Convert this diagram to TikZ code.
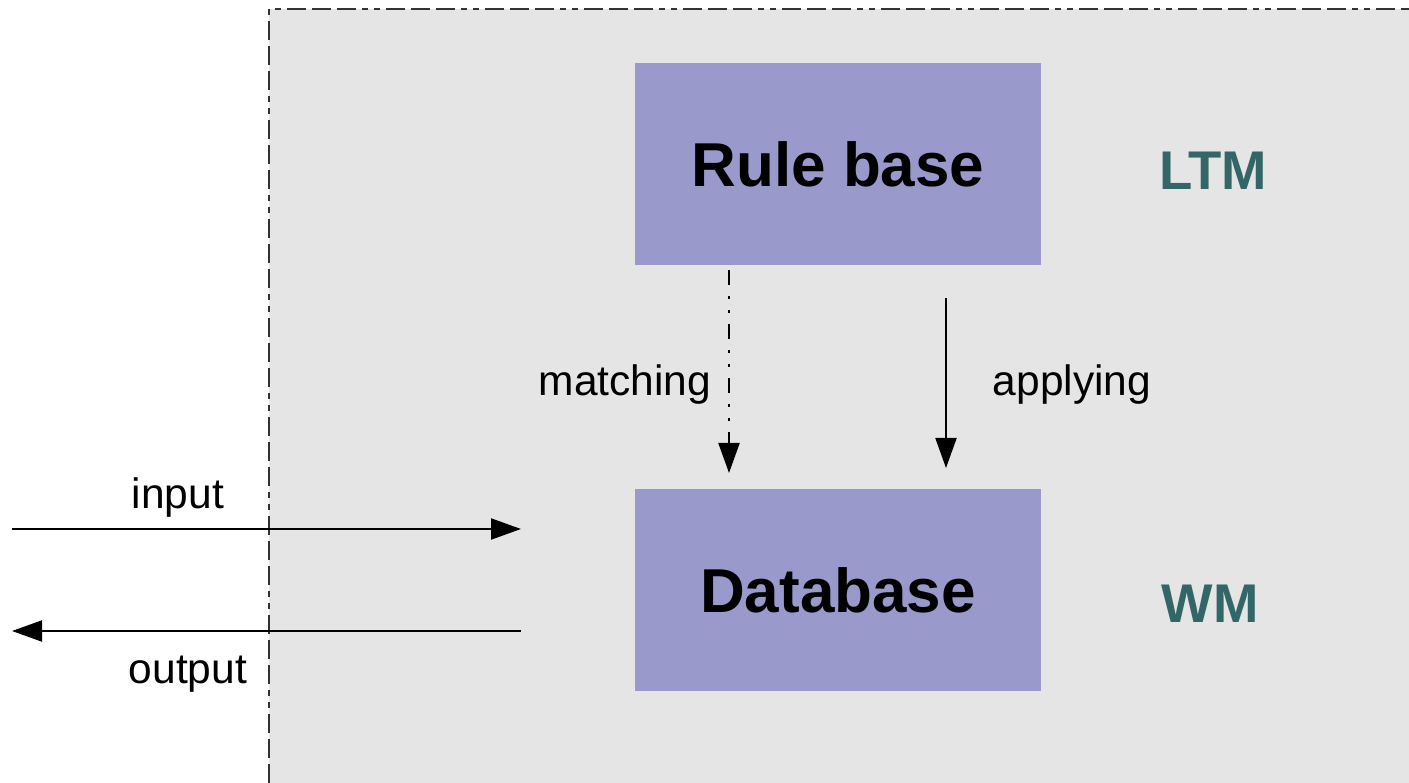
\documentclass[tikz,border=0pt]{standalone}
\usepackage{fontspec}
\setmainfont{Liberation Sans}
\usetikzlibrary{arrows.meta}
\definecolor{panelgray}{HTML}{E5E5E5}
\definecolor{boxblue}{HTML}{9999CC}
\definecolor{tealtxt}{HTML}{336666}
\tikzset{
  blockbox/.style={draw=none, fill=boxblue, minimum width=406pt, minimum height=202pt, inner sep=0pt,
    font=\fontsize{62}{62}\selectfont\bfseries},
  memlabel/.style={text=tealtxt, font=\fontsize{54.5}{55}\selectfont\bfseries, anchor=base},
  smalllabel/.style={font=\fontsize{42.5}{43}\selectfont, anchor=base},
  conn/.style={line width=2pt, -{Triangle[length=30pt,width=21pt]}},
  dotconn/.style={conn, dash pattern=on 15pt off 11pt on 3pt off 11pt on 3pt off 11pt},
  borderline/.style={line width=2pt, draw=black!80, dash pattern=on 19pt off 6pt on 19pt off 6pt on 19pt off 6pt on 6pt off 6pt on 6pt off 6pt}
}
\begin{document}
\begin{tikzpicture}[x=1pt,y=-1pt]
\useasboundingbox (0,0) rectangle (1409,783);
\fill[panelgray] (269,9) rectangle (1409,783);
\draw[borderline] (269,783) -- (269,9) -- (1409,9);
\node[blockbox] (rb) at (838,164) {Rule base};
\node[blockbox] (db) at (838,590) {Database};
\node[memlabel] (ltm) at (1213,190) {LTM};
\node[memlabel] (wm) at (1210,622) {WM};
\coordinate (m0) at (729,270);
\coordinate (m1) at (729,473);
\coordinate (a0) at (946,298);
\coordinate (a1) at (946,468);
\draw[dotconn] (m0) -- (m1);
\draw[conn] (a0) -- (a1);
\node[smalllabel] (ml) at (625,396) {matching};
\node[smalllabel] (al) at (1072,396) {applying};
\coordinate (i0) at (12,529);
\coordinate (i1) at (521,529);
\coordinate (o0) at (521,631);
\coordinate (o1) at (12,631);
\draw[conn] (i0) -- (i1);
\draw[conn] (o0) -- (o1);
\node[smalllabel] (il) at (178,508) {input};
\node[smalllabel] (ol) at (188,683) {output};
\end{tikzpicture}
\end{document}
